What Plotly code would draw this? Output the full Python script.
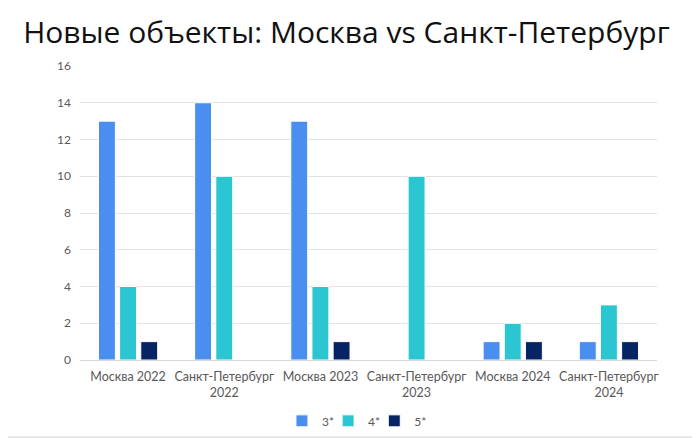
import plotly.graph_objects as go

# Новые объекты по категориям звёздности
categories = ['Москва 2022', 'Санкт-Петербург<br>2022', 'Москва 2023',
              'Санкт-Петербург<br>2023', 'Москва 2024', 'Санкт-Петербург<br>2024']
stars3 = [13, 14, 13, 0, 1, 1]
stars4 = [4, 10, 4, 10, 2, 3]
stars5 = [1, 0, 1, 0, 1, 1]

series = [('3*', stars3, '#4a8ef0', 'legend'),
          ('4*', stars4, '#2cc6d2', 'legend2'),
          ('5*', stars5, '#062463', 'legend3')]

fig = go.Figure()
for name, vals, color, lg in series:
    fig.add_trace(go.Bar(
        x=categories, y=vals, name=name, legend=lg,
        marker=dict(color=color, line=dict(color='#ffffff', width=1)),
    ))

# page body has an 8px margin, so the figure is 8px smaller and shifted
W, H = 692, 430
leg = dict(orientation='h', yanchor='middle', y=-0.207, xanchor='left',
           bgcolor='rgba(0,0,0,0)', font=dict(size=12, color='#595959'), itemwidth=30)

fig.update_layout(
    width=W, height=H,
    paper_bgcolor='white', plot_bgcolor='white',
    margin=dict(l=72, r=43, t=58, b=78, autoexpand=False),
    barmode='group', bargap=0.34, bargroupgap=0.2,
    title=dict(text='Новые объекты: Москва vs Санкт-Петербург',
               x=0.489, xanchor='center', y=0.942, yanchor='middle',
               font=dict(family='Open Sans', size=30, color='#111111')),
    font=dict(family='Lato', size=12, color='#595959'),
    showlegend=True,
    legend=dict(leg, x=0.35),
    legend2=dict(leg, x=0.43),
    legend3=dict(leg, x=0.51),
    shapes=[dict(type='rect', xref='paper', yref='paper', x0=-0.2, x1=1.2,
                 y0=-0.266, y1=-0.259, fillcolor='#e4e4e4', line_width=0)],
)
fig.update_yaxes(range=[0, 16], dtick=2, showgrid=True, gridcolor='#e3e3e3',
                 zeroline=False, showline=False, ticks='', ticklen=0, automargin=False,
                 ticklabelstandoff=8, tickfont=dict(size=12, color='#595959'))
fig.update_xaxes(showline=True, linecolor='#d9d9d9', ticks='', automargin=False,
                 ticklabelstandoff=5, tickfont=dict(size=12.5, color='#595959'))

fig.write_html('out.html')
